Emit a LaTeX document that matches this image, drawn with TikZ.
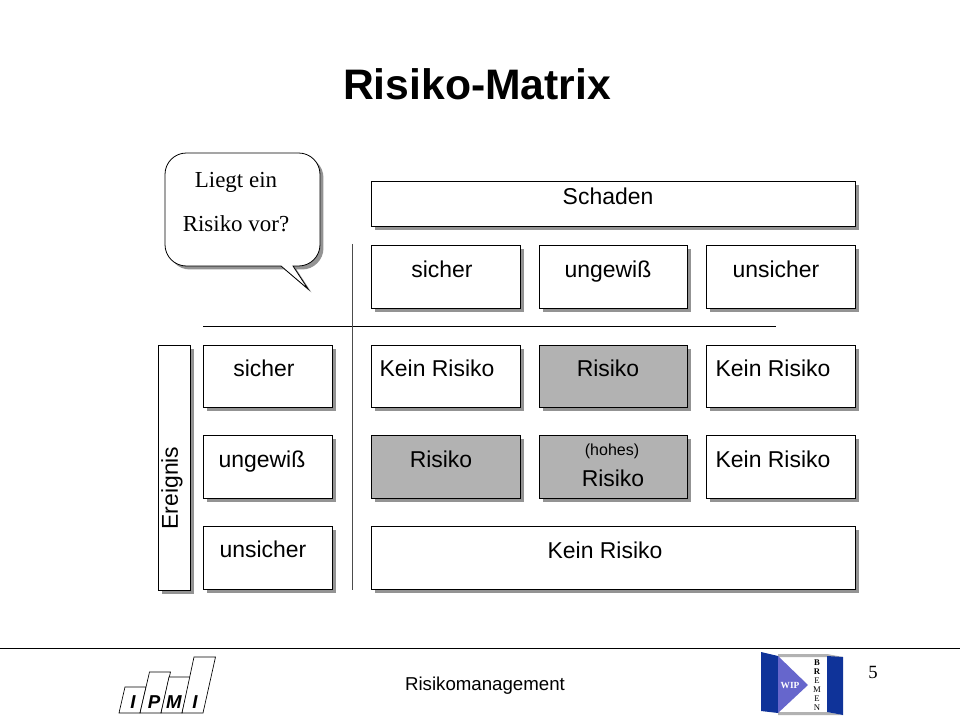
\documentclass[tikz,border=0pt]{standalone}
\usepackage{fontspec}
\setmainfont{Liberation Sans}
\newfontfamily\serifface{Liberation Serif}
\usetikzlibrary{shadows}
\definecolor{riskgray}{HTML}{B2B2B2}
\definecolor{wipblue}{HTML}{0F3399}
\definecolor{wiplight}{HTML}{6666CC}
\begin{document}
\begin{tikzpicture}[x=0.75pt,y=-0.75pt]
\tikzstyle{cell}=[draw=black,line width=0.6pt,fill=white,inner sep=0pt,drop shadow={shadow xshift=3pt,shadow yshift=-3pt,fill=gray!85,opacity=1}]
\tikzstyle{word}=[inner sep=0pt,text height=12.5pt,text depth=0pt,font=\fontsize{17.2}{20}\selectfont]
\tikzstyle{bar}=[draw=black,line width=0.5pt,fill=white]
\tikzstyle{ask}=[inner sep=0pt,font=\serifface\fontsize{17.2}{20}\selectfont]
\useasboundingbox (0,0) rectangle (960,720);
% boxes
\foreach \name/\point/\bw/\bh/\tone in {
	schaden/{613,203.5}/484/45/white,
	colsure/{445.5,276.5}/149/63/white,
	coluncl/{613,276.5}/148/63/white,
	colunsafe/{780.5,276.5}/149/63/white,
	ereignis/{174,467.5}/32/245/white,
	rowsure/{267.5,376}/129/62/white,
	rowuncl/{267.5,466.5}/129/63/white,
	rowunsafe/{267.5,557.5}/129/63/white,
	a/{445.5,376}/149/62/white,
	b/{613,376}/148/62/riskgray,
	c/{780.5,376}/149/62/white,
	d/{445.5,466.5}/149/63/riskgray,
	e/{613,466.5}/148/63/riskgray,
	f/{780.5,466.5}/149/63/white,
	g/{613,557.5}/484/63/white}
	\node[cell,fill=\tone,minimum width=\bw*0.75pt,minimum height=\bh*0.75pt] (\name) at (\point) {};
% texts
\foreach \name/\point/\txt in {
	tschaden/{608,196}/Schaden,
	tcolsure/{442,269}/sicher,
	tcoluncl/{608,269}/ungewiß,
	tcolunsafe/{776,269}/unsicher,
	trowsure/{264,368}/sicher,
	trowuncl/{262,459}/ungewiß,
	trowunsafe/{263,549}/unsicher,
	ta/{437,368}/Kein Risiko,
	tb/{608,368}/Risiko,
	tc/{773,368}/Kein Risiko,
	td/{441,459}/Risiko,
	te/{613,478}/Risiko,
	tf/{773,459}/Kein Risiko,
	tg/{605,550}/Kein Risiko}
	\node[word] (\name) at (\point) {\txt};
\node[inner sep=0pt,font=\fontsize{12}{14}\selectfont] (hohes) at (612,451) {(hohes)};
\node[inner sep=0pt,rotate=90,font=\fontsize{17.2}{20}\selectfont] (tereignis) at (172,488) {Ereignis};
\node[inner sep=0pt,font=\fontsize{32}{36}\bfseries\selectfont] (title) at (477,84) {Risiko-Matrix};
% axes
\coordinate (hl) at (203,326);
\coordinate (hr) at (776,326);
\coordinate (vt) at (352,244);
\coordinate (vb) at (352,590);
\draw[line width=0.6pt] (hl) -- (hr);
\draw[line width=0.6pt,black!70] (vt) -- (vb);
% bubble
\draw[line width=0.6pt,fill=white,drop shadow={shadow xshift=2.6pt,shadow yshift=-2.6pt,fill=gray!85,opacity=1}]
	(281,266) [rounded corners=16pt] -- (165,266) -- (165,153) -- (320,153) -- (320,266) [sharp corners] -- (293,266) -- (308,289) -- cycle;
\node[ask] (ask1) at (236,182) {Liegt ein};
\node[ask] (ask2) at (236,224) {Risiko vor?};
% footer
\coordinate (fl) at (0,648);
\coordinate (fr) at (960,648);
\draw[line width=0.7pt] (fl) -- (fr);
\node[inner sep=0pt,font=\fontsize{14}{16}\selectfont] (footer) at (485,686) {Risikomanagement};
\node[inner sep=0pt,font=\serifface\fontsize{14}{16}\selectfont] (page) at (873,672) {5};
% ipmi logo
\draw[bar] (119,713) -- (125,687) -- (146,687) -- (140,713) -- cycle;
\draw[bar] (140,713) -- (149.5,672) -- (170.5,672) -- (161,713) -- cycle;
\draw[bar] (161,713) -- (169,677) -- (190.5,677) -- (182,713) -- cycle;
\draw[bar] (182,713) -- (194,657) -- (215.5,657) -- (203,713) -- cycle;
\foreach \name/\point/\txt in {
	li/{133,702}/I,
	lp/{154,702}/P,
	lm/{174,702}/M,
	lj/{195,702}/I}
	\node[inner sep=0pt,font=\fontsize{14}{17}\bfseries\itshape\selectfont] (\name) at (\point) {\txt};
% wip logo
\fill[gray!60] (778,654) -- (827,654) -- (843,657) -- (827,657) -- (778,657) -- cycle;
\fill[gray!60] (778,712) -- (827,712) -- (843,715) -- (778,715) -- cycle;
\fill[wipblue] (761,652) -- (778,656) -- (778,713) -- (761,711) -- cycle;
\fill[wipblue] (827,656) -- (843,657) -- (843,715) -- (827,712) -- cycle;
\fill[wiplight] (778,656) -- (808,685) -- (778,713) -- cycle;
\node[inner sep=0pt,text=white,font=\serifface\fontsize{7}{8}\bfseries\selectfont] (wip) at (790,686) {WIP};
\node[inner sep=0pt,align=center,font=\serifface\fontsize{6.5}{6.75}\selectfont] (bremen) at (817,685) {\textbf{B}\\\textbf{R}\\E\\M\\E\\N};
\end{tikzpicture}
\end{document}
